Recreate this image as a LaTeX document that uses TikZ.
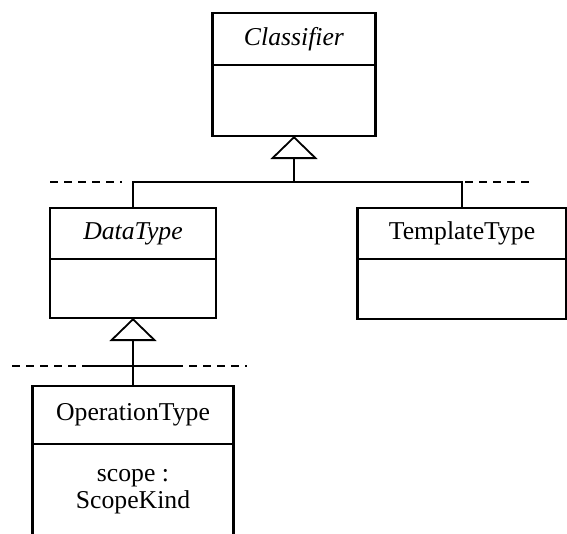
\documentclass[tikz,border=0pt]{standalone}
\usepackage{fontspec}
\setmainfont{Liberation Serif}
\usetikzlibrary{arrows.meta,positioning}

\begin{document}
\begin{tikzpicture}[
  x=1pt,y=-1pt,
  font=\fontsize{25.7}{27}\selectfont,
  node distance=0pt,
  classname/.style={draw,line width=2.6pt,minimum width=#1,minimum height=52pt,
                    inner sep=0pt,outer sep=0pt,align=center},
  classbody/.style={draw,line width=2.6pt,minimum width=#1,inner sep=0pt,outer sep=0pt},
  inherit/.style={-{Triangle[open,length=23pt,width=47pt]},line width=1.8pt},
  link/.style={line width=1.8pt},
  stub/.style={line width=1.8pt,dash pattern=on 8pt off 6pt}
]
\useasboundingbox (0,0) rectangle (567,533);
\clip (0,0) rectangle (567,533);

\node[classname=163pt] (cls) at (294,39) {\textit{Classifier}};
\node[classbody=163pt,minimum height=71pt,below=of cls] (clsbody) {};

\node[classname=166pt,minimum height=51pt] (dt) at (133,233.5) {\textit{DataType}};
\node[classbody=166pt,minimum height=59pt,below=of dt] (dtbody) {};

\node[classname=209pt,minimum height=51pt] (tt) at (462,233.5) {TemplateType};
\node[classbody=209pt,minimum height=60pt,below=of tt] (ttbody) {};

\node[classname=201pt,minimum height=58pt] (op) at (133,415) {OperationType};
\node[classbody=201pt,minimum height=130pt,below=of op] (opbody) {};
\node[align=center] (opattr) at (133,492) {scope :\\ScopeKind};

% generalization Classifier
\coordinate (j1) at (clsbody.south |- 0,182);
\draw[link] (dt.north) |- (j1) -| (tt.north);
\draw[inherit] (j1) -- (clsbody.south);
\draw[stub] (50,182) -- (122,182);
\draw[stub] (465,182) -- (533,182);

% generalization DataType
\coordinate (j2) at (dtbody.south |- 0,366);
\draw[link] (82,366) -- (175,366);
\draw[stub] (12,366) -- (82,366);
\draw[stub] (175,366) -- (247,366);
\draw[link] (op.north) -- (j2);
\draw[inherit] (j2) -- (dtbody.south);
\end{tikzpicture}
\end{document}
